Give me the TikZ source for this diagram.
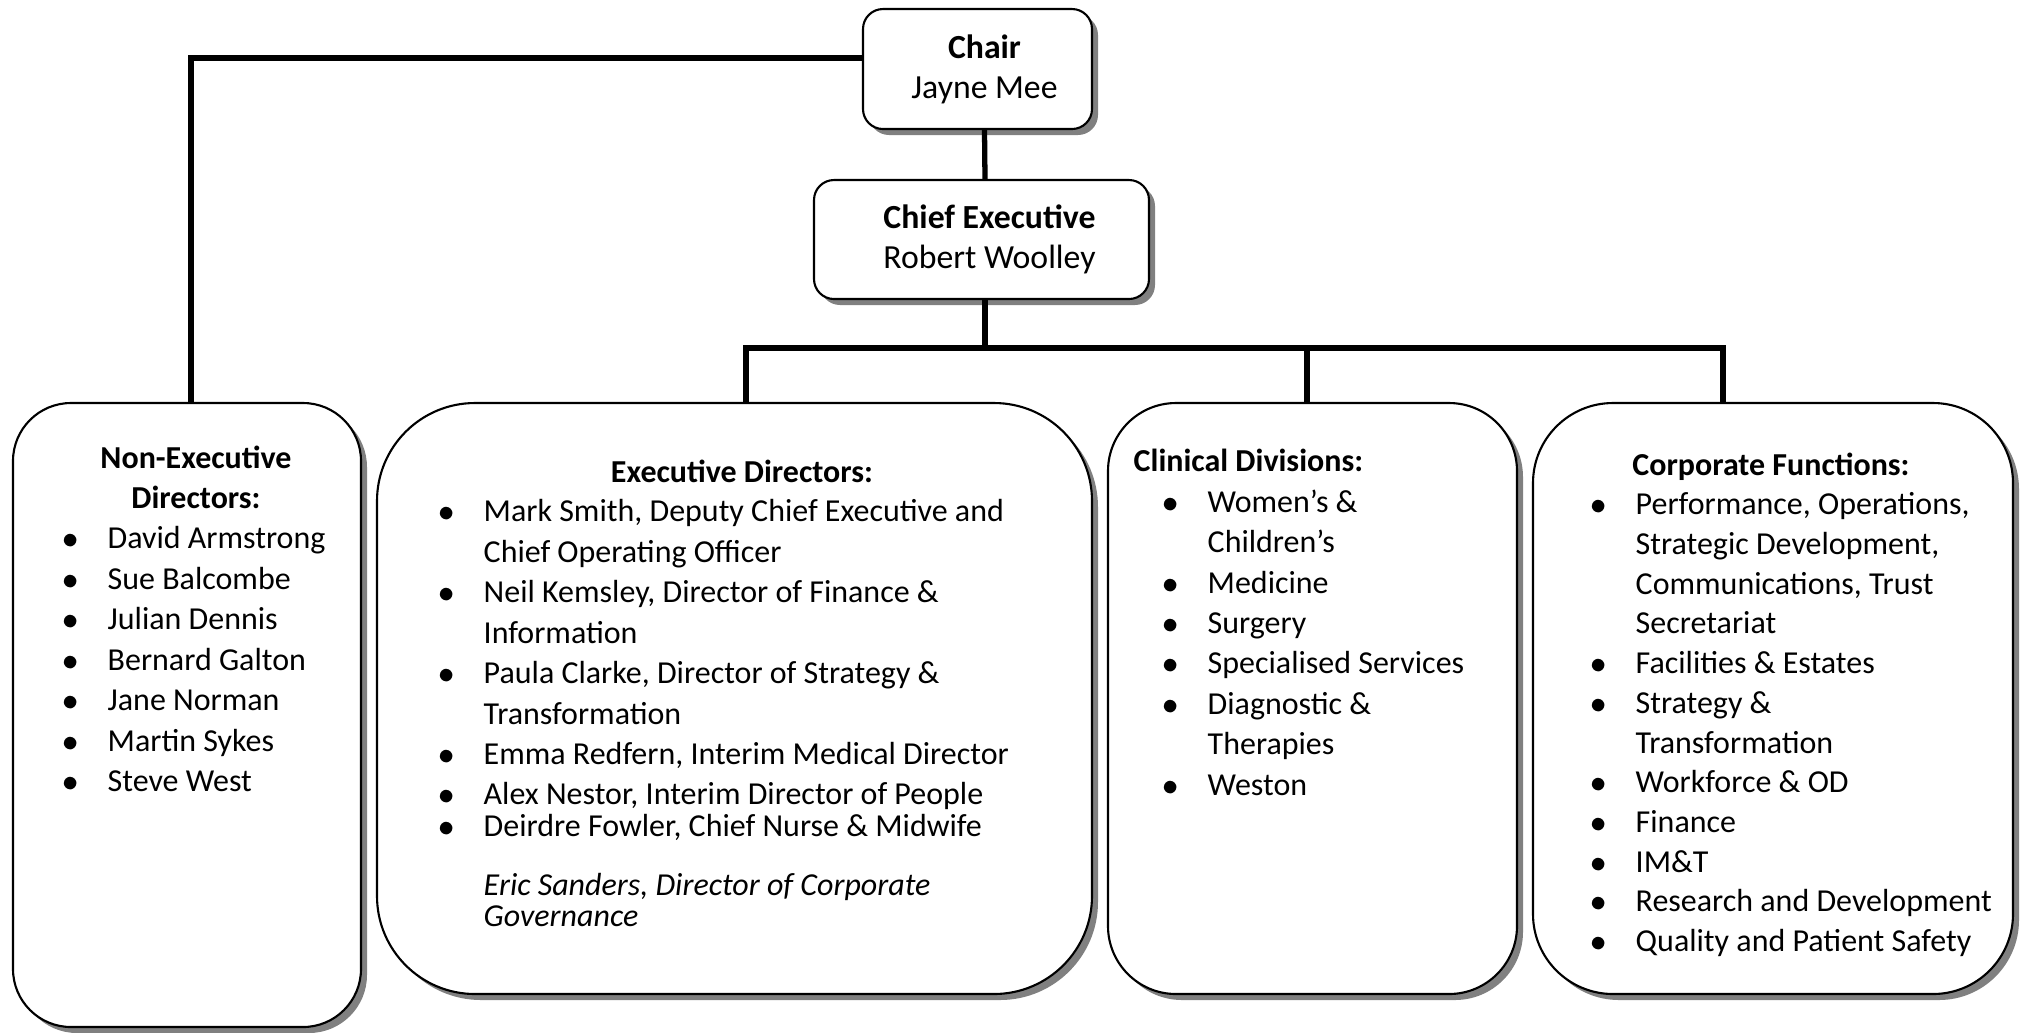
\documentclass[tikz,border=0pt]{standalone}
\usepackage{fontspec}
\setmainfont{Carlito}
\usetikzlibrary{positioning,shadows}

\newcommand{\bul}{\makebox[0.45cm][l]{$\bullet$}}
\newcommand{\ind}{\hspace*{0.45cm}}

\begin{document}
\begin{tikzpicture}[
    orgbox/.style={draw, line width=0.6pt, fill=white, inner sep=0pt,
      drop shadow={shadow xshift=0.06cm, shadow yshift=-0.06cm, fill=black!50, opacity=1}},
    link/.style={line width=1.5pt},
    listtext/.style={align=left, inner sep=0pt, font=\fontsize{9.1}{11.5}\selectfont},
    headtext/.style={listtext, font=\fontsize{9.1}{11.5}\selectfont\bfseries},
    toptext/.style={align=center, font=\fontsize{9.6}{11.4}\selectfont}
  ]
  \useasboundingbox (0,0) rectangle (20.2,-10.32);

  % top of the chart
  \node[orgbox, toptext, rounded corners=0.2cm, minimum width=2.29cm, minimum height=1.20cm]
    (chair) at (9.775,-0.69) {\hspace*{0.14cm}\textbf{Chair}\\\hspace*{0.14cm}Jayne Mee};
  \node[orgbox, toptext, rounded corners=0.2cm, minimum width=3.35cm, minimum height=1.19cm]
    (ceo) at (9.815,-2.395) {\hspace*{0.16cm}\textbf{Chief Executive}\\\hspace*{0.16cm}Robert Woolley};

  % the four groups
  \node[orgbox, rounded corners=0.58cm, minimum width=3.48cm, minimum height=6.24cm] (ned)  at (1.87,-7.15)   {};
  \node[orgbox, rounded corners=0.98cm, minimum width=7.15cm, minimum height=5.91cm] (exec) at (7.345,-6.985) {};
  \node[orgbox, rounded corners=0.68cm, minimum width=4.09cm, minimum height=5.91cm] (clin) at (13.125,-6.985) {};
  \node[orgbox, rounded corners=0.80cm, minimum width=4.80cm, minimum height=5.91cm] (corp) at (17.73,-6.985) {};

  \node[headtext, align=center, anchor=north] (nedhead) at (1.96,-4.45) {Non-Executive\\Directors:};
  \node[listtext, anchor=north west] (nedlist) at (0.62,-5.26)
    {\bul David Armstrong\\
     \bul Sue Balcombe\\
     \bul Julian Dennis\\
     \bul Bernard Galton\\
     \bul Jane Norman\\
     \bul Martin Sykes\\
     \bul Steve West};

  \node[headtext, anchor=north] (exechead) at (7.42,-4.59) {Executive Directors:};
  \node[listtext, anchor=north west] (execlist) at (4.38,-4.99)
    {\bul Mark Smith, Deputy Chief Executive and\\
     \ind Chief Operating Officer\\
     \bul Neil Kemsley, Director of Finance \&\\
     \ind Information\\
     \bul Paula Clarke, Director of Strategy \&\\
     \ind Transformation\\
     \bul Emma Redfern, Interim Medical Director\\
     \bul Alex Nestor, Interim Director of People\\[-2.4pt]
     \bul Deirdre Fowler, Chief Nurse \& Midwife\\[5.3pt]
     \ind\textit{Eric Sanders, Director of Corporate}\\[-2.9pt]
     \ind\textit{Governance}};

  \node[headtext, anchor=north west] (clinhead) at (11.33,-4.48) {Clinical Divisions:};
  \node[listtext, anchor=north west] (clinlist) at (11.62,-4.89)
    {\bul Women's \&\\
     \ind Children's\\
     \bul Medicine\\
     \bul Surgery\\
     \bul Specialised Services\\
     \bul Diagnostic \&\\
     \ind Therapies\\
     \bul Weston};

  \node[headtext, anchor=north] (corphead) at (17.71,-4.52) {Corporate Functions:};
  \node[listtext, anchor=north west, font=\fontsize{9.1}{11.3}\selectfont] (corplist) at (15.90,-4.92)
    {\bul Performance, Operations,\\
     \ind Strategic Development,\\
     \ind Communications, Trust\\
     \ind Secretariat\\
     \bul Facilities \& Estates\\
     \bul Strategy \&\\
     \ind Transformation\\
     \bul Workforce \& OD\\
     \bul Finance\\
     \bul IM\&T\\
     \bul Research and Development\\
     \bul Quality and Patient Safety};

  % reporting lines
  \coordinate (fork) at ([xshift=0.035cm, yshift=-0.48cm]ceo.south);
  \draw[link] ([yshift=0.11cm]chair.west) -| ([xshift=0.04cm]ned.north);
  \draw[link] ([xshift=0.07cm]chair.south) -- ([xshift=0.035cm]ceo.north);
  \draw[link] ([xshift=0.035cm]ceo.south) -- (fork);
  \draw[link] ([xshift=0.115cm]exec.north) |- (fork) -| ([xshift=-0.50cm]corp.north);
  \draw[link] ([xshift=-0.055cm]clin.north) -- ([xshift=-0.055cm]clin.north |- fork);
\end{tikzpicture}
\end{document}
